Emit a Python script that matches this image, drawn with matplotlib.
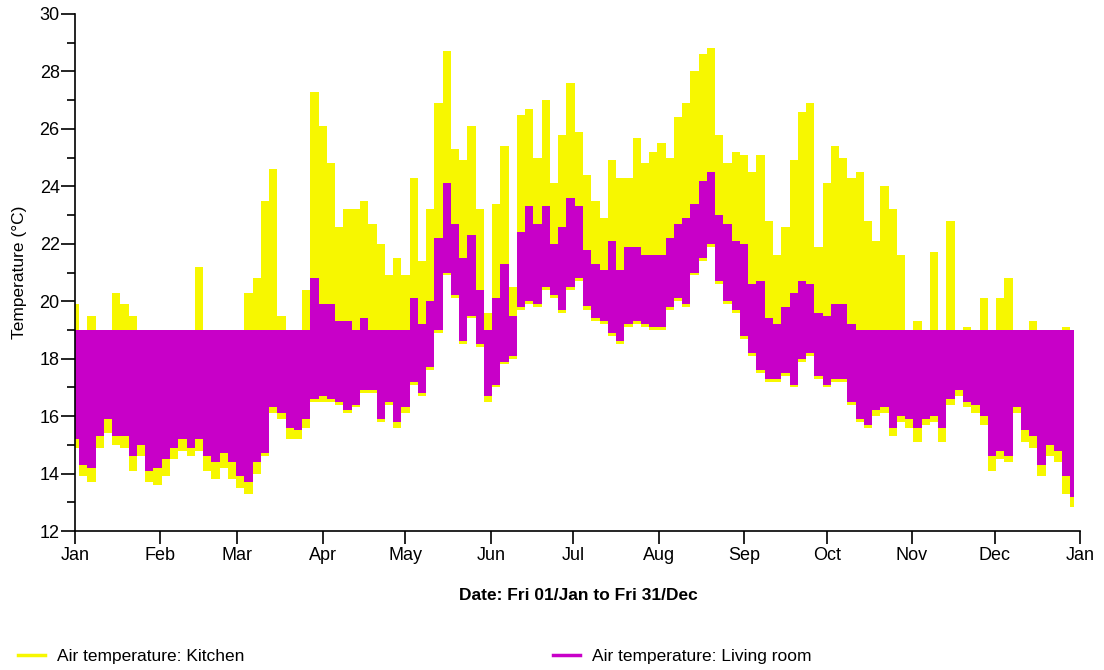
import matplotlib
matplotlib.use("Agg")
import matplotlib.pyplot as plt
import numpy as np
from matplotlib.lines import Line2D
from matplotlib.ticker import MultipleLocator

plt.rcParams['font.family'] = ['Liberation Sans', 'DejaVu Sans']

# values, one sample every 3 days (day of year 0, 3, ... 363)
days = np.arange(0, 364, 3)

kitchen_hi = [19.9, 19.0, 19.5, 19.0, 19.0, 20.3, 19.9, 19.5, 19.0, 19.0,
              19.0, 19.0, 19.0, 19.0, 19.0, 21.2, 19.0, 19.0, 19.0, 19.0,
              19.0, 20.3, 20.8, 23.5, 24.6, 19.5, 19.0, 19.0, 20.4, 27.3,
              26.1, 24.8, 22.6, 23.2, 23.2, 23.5, 22.7, 22.0, 20.9, 21.5,
              20.9, 24.3, 21.4, 23.2, 26.9, 28.7, 25.3, 24.9, 26.1, 23.2,
              19.6, 23.4, 25.4, 20.5, 26.5, 26.7, 25.0, 27.0, 24.1, 25.8,
              27.6, 25.9, 24.4, 23.5, 22.9, 24.9, 24.3, 24.3, 25.7, 24.8,
              25.2, 25.5, 25.0, 26.4, 26.9, 28.0, 28.6, 28.8, 25.8, 24.8,
              25.2, 25.1, 24.5, 25.1, 22.8, 21.6, 22.6, 24.9, 26.6, 26.9,
              21.9, 24.1, 25.4, 25.0, 24.3, 24.5, 22.8, 22.1, 24.0, 23.2,
              21.6, 19.0, 19.3, 19.0, 21.7, 19.0, 22.8, 19.0, 19.1, 19.0,
              20.1, 19.0, 20.1, 20.8, 19.0, 19.0, 19.3, 19.0, 19.0, 19.0,
              19.1, 19.0]

kitchen_lo = [14.9, 13.9, 13.7, 14.9, 15.4, 15.0, 14.9, 14.1, 14.6, 13.7,
              13.6, 13.9, 14.5, 14.8, 14.6, 14.8, 14.1, 13.8, 14.2, 13.8,
              13.5, 13.3, 14.0, 14.6, 16.1, 15.9, 15.2, 15.2, 15.6, 16.5,
              16.5, 16.5, 16.4, 16.1, 16.3, 16.8, 16.8, 15.8, 16.4, 15.6,
              16.1, 17.1, 16.7, 17.6, 18.9, 20.9, 20.1, 18.5, 19.4, 18.4,
              16.5, 17.0, 17.8, 18.0, 19.7, 19.9, 19.8, 20.4, 20.1, 19.6,
              20.4, 20.7, 19.7, 19.3, 19.2, 18.8, 18.5, 19.1, 19.2, 19.1,
              19.0, 19.0, 19.7, 20.0, 19.8, 20.9, 21.4, 21.9, 20.6, 19.9,
              19.6, 18.7, 18.1, 17.5, 17.2, 17.2, 17.4, 17.0, 17.9, 18.1,
              17.3, 17.0, 17.2, 17.2, 16.4, 15.8, 15.6, 16.0, 16.1, 15.3,
              15.8, 15.6, 15.1, 15.7, 15.8, 15.1, 16.4, 16.7, 16.3, 16.1,
              15.7, 14.1, 14.5, 14.4, 16.1, 15.1, 14.9, 13.9, 14.6, 14.4,
              13.3, 12.85]

living_hi = [19.0] * 29 + [
             20.8, 19.9, 19.9, 19.3, 19.3, 19.0, 19.4, 19.0, 19.0, 19.0,
             19.0, 19.0, 20.1, 19.2, 20.0, 22.2, 24.1, 22.7, 21.5, 22.3,
             20.4, 19.0, 20.1, 21.3, 19.5, 22.4, 23.3, 22.7, 23.3, 22.0,
             22.6, 23.6, 23.3, 21.8, 21.3, 21.1, 22.1, 21.1, 21.9, 21.9,
             21.6, 21.6, 21.6, 22.2, 22.7, 22.9, 23.4, 24.2, 24.5, 23.0,
             22.7, 22.1, 22.0, 20.6, 20.7, 19.4, 19.2, 19.8, 20.3, 20.7,
             20.6, 19.6, 19.5, 19.9, 19.9, 19.2] + [19.0] * 27

living_lo = [15.2, 14.3, 14.2, 15.3, 15.9, 15.3, 15.3, 14.6, 15.0, 14.1,
             14.2, 14.5, 14.9, 15.2, 14.9, 15.2, 14.6, 14.4, 14.7, 14.4,
             13.9, 13.7, 14.4, 14.7, 16.3, 16.1, 15.6, 15.5, 15.9, 16.6,
             16.7, 16.6, 16.5, 16.2, 16.4, 16.9, 16.9, 15.9, 16.5, 15.8,
             16.3, 17.2, 16.8, 17.7, 19.0, 21.0, 20.2, 18.6, 19.5, 18.5,
             16.7, 17.1, 17.9, 18.1, 19.8, 20.0, 19.9, 20.5, 20.2, 19.7,
             20.5, 20.8, 19.85, 19.4, 19.3, 18.9, 18.6, 19.2, 19.3, 19.2,
             19.1, 19.1, 19.8, 20.1, 19.9, 21.0, 21.5, 22.0, 20.7, 20.0,
             19.7, 18.8, 18.2, 17.6, 17.3, 17.3, 17.5, 17.1, 18.0, 18.2,
             17.4, 17.1, 17.3, 17.3, 16.5, 15.9, 15.7, 16.2, 16.3, 15.6,
             16.0, 15.9, 15.6, 15.9, 16.0, 15.6, 16.6, 16.9, 16.5, 16.4,
             16.0, 14.6, 14.8, 14.6, 16.3, 15.5, 15.3, 14.3, 15.0, 14.8,
             13.9, 13.2]

month_starts = [0, 31, 59, 90, 120, 151, 181, 212, 243, 273, 304, 334, 365]
month_labels = ['Jan', 'Feb', 'Mar', 'Apr', 'May', 'Jun', 'Jul',
                'Aug', 'Sep', 'Oct', 'Nov', 'Dec', 'Jan']

yellow = '#f7f700'
magenta = '#c800c8'

fig = plt.figure(figsize=(11.04, 6.70), dpi=100)
ax = fig.add_axes([75 / 1104, 1 - 531 / 670, 1005 / 1104, 517 / 670])

# kitchen first, living room drawn over it
ax.fill_between(days, kitchen_lo, kitchen_hi, step='mid', color=yellow, lw=0)
ax.fill_between(days, living_lo, living_hi, step='mid', color=magenta, lw=0)

ax.set_xlim(0, 365)
ax.set_ylim(12, 30)
ax.set_xticks(month_starts, month_labels, fontsize=13)
ax.yaxis.set_major_locator(MultipleLocator(2))
ax.yaxis.set_minor_locator(MultipleLocator(1))
ax.tick_params(axis='y', labelsize=13)

for s in ['top', 'right']:
    ax.spines[s].set_visible(False)
for s in ['left', 'bottom']:
    ax.spines[s].set_linewidth(1.2)

ax.tick_params(axis='y', which='major', direction='out', length=10, width=1.2, pad=1)
ax.tick_params(axis='y', which='minor', direction='out', length=5.5, width=1.2)
ax.tick_params(axis='x', which='major', direction='out', length=9.5, width=1.2, pad=2)

fig.text(578 / 1104, 1 - 595 / 670, 'Date: Fri 01/Jan to Fri 31/Dec',
         ha='center', va='center', fontsize=12.5, fontweight='bold')
fig.text(20 / 1104, 1 - 272 / 670, 'Temperature (\u00b0C)', rotation=90,
         ha='center', va='center', fontsize=12.5)

# legend below the chart
for x0, col, name in [(18, yellow, 'Air temperature: Kitchen'),
                      (553, magenta, 'Air temperature: Living room')]:
    fig.add_artist(Line2D([x0 / 1104, (x0 + 27) / 1104], [1 - 655 / 670] * 2,
                          transform=fig.transFigure, color=col, lw=2.5))
    fig.text((x0 + 39) / 1104, 1 - 656 / 670, name, ha='left', va='center',
             fontsize=12.5)

fig.savefig('out.png', dpi=100)
